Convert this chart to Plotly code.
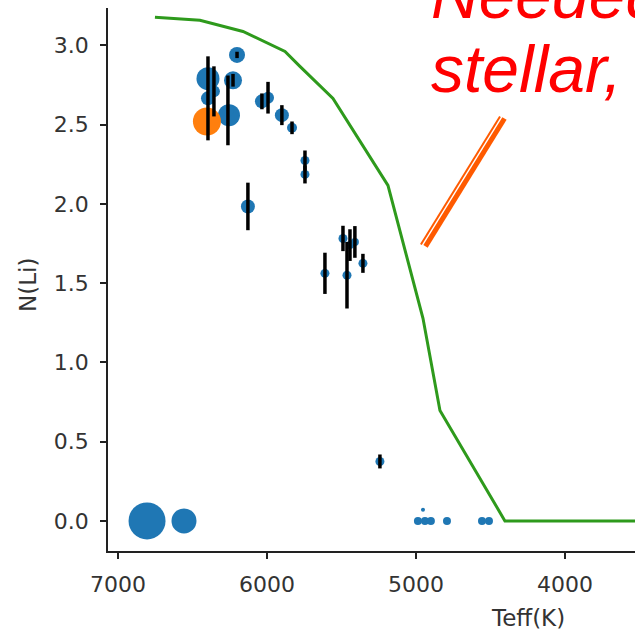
import plotly.graph_objects as go

# ---- data ----
teff = [6201, 6396, 6228, 6255, 6396, 6356, 6262, 6034, 5993, 5900, 5832,
        5745, 5745, 6128, 5611, 5463, 5490, 5443, 5410, 5356, 5242,
        4987, 4940, 4900, 4953, 4792, 4557, 4510, 6805, 6557]
nli = [2.94, 2.79, 2.78, 2.56, 2.666, 2.71, 2.59, 2.647, 2.67, 2.56, 2.48,
       2.274, 2.186, 1.984, 1.562, 1.55, 1.782, 1.74, 1.76, 1.625, 0.375,
       0.0, 0.0, 0.0, 0.07, 0.0, 0.0, 0.0, 0.0, 0.0]
nli_err = [0.02, 0.0, 0.04, 0.0, 0.265, 0.158, 0.22, 0.05, 0.10, 0.063, 0.04,
           0.063, 0.057, 0.15, 0.13, 0.21, 0.08, 0.10, 0.10, 0.06, 0.044,
           0.0, 0.0, 0.0, 0.0, 0.0, 0.0, 0.0, 0.0, 0.0]
bubble = [16, 23, 18, 22, 14, 12, 12, 14, 12, 14, 10,
          9, 9, 14, 9, 9, 9, 8, 8, 9, 9,
          8, 8, 8, 4, 8, 8, 8, 37, 25]

sun_teff = [6403]
sun_nli = [2.52]
sun_bubble = [28]

model_teff = [6752, 6450, 6161, 5879, 5779, 5557, 5188, 4953, 4839, 4403, 3500]
model_nli = [3.177, 3.158, 3.088, 2.962, 2.868, 2.666, 2.117, 1.278, 0.697, 0.0, 0.0]

x_ticks = [7000, 6000, 5000, 4000]
y_ticks = [0.0, 0.5, 1.0, 1.5, 2.0, 2.5, 3.0]

# annotation stroke (two parallel strokes)
stroke_thin = ([4967, 4436], [1.744, 2.552])
stroke_thick = ([4936, 4406], [1.732, 2.539])

BLUE = "#1f77b4"
ORANGE = "#ff7f0e"

fig = go.Figure()

fig.add_trace(go.Scatter(
    x=model_teff, y=model_nli, mode="lines",
    line=dict(color="#2e9a1c", width=3), hoverinfo="skip"))

fig.add_trace(go.Scatter(
    x=teff, y=nli, mode="markers",
    marker=dict(size=bubble, color=BLUE, opacity=1, line=dict(width=0))))

fig.add_trace(go.Scatter(
    x=sun_teff, y=sun_nli, mode="markers",
    marker=dict(size=sun_bubble, color=ORANGE, opacity=1, line=dict(width=0))))

eb_x = [t for t, e in zip(teff, nli_err) if e > 0]
eb_y = [n for n, e in zip(nli, nli_err) if e > 0]
eb_e = [e for e in nli_err if e > 0]
fig.add_trace(go.Scatter(
    x=eb_x, y=eb_y, mode="markers",
    marker=dict(size=1, color="rgba(0,0,0,0)"),
    error_y=dict(type="data", array=eb_e, visible=True,
                 color="black", thickness=3.5, width=0)))

fig.add_shape(type="line", xref="x", yref="y",
              x0=stroke_thin[0][0], x1=stroke_thin[0][1],
              y0=stroke_thin[1][0], y1=stroke_thin[1][1],
              line=dict(color="#ff5a00", width=2))
fig.add_shape(type="line", xref="x", yref="y",
              x0=stroke_thick[0][0], x1=stroke_thick[0][1],
              y0=stroke_thick[1][0], y1=stroke_thick[1][1],
              line=dict(color="#ff5a00", width=5))

L, R, T, B = 108, 0, 8, 81
W, H = 635, 632
pw, ph = W - L - R, H - T - B

def px(xp):
    return (xp - L) / pw

def py(yp):
    return (H - B - yp) / ph

red_font = dict(family="Liberation Sans, Arial, sans-serif", size=66,
                color="#ff0000", style="italic")
fig.add_annotation(xref="paper", yref="paper", x=px(429), y=py(34),
                   xanchor="left", yanchor="bottom", showarrow=False,
                   text="Needed", font=red_font)
fig.add_annotation(xref="paper", yref="paper", x=px(429), y=py(108),
                   xanchor="left", yanchor="bottom", showarrow=False,
                   text="stellar,\u2009or", font=red_font)

lab_font = dict(family="DejaVu Sans", size=23, color="#333333")
fig.add_annotation(xref="paper", yref="paper", x=px(28), y=py(285),
                   xanchor="center", yanchor="middle", showarrow=False,
                   text="N(Li)", textangle=-90, font=lab_font)
fig.add_annotation(xref="paper", yref="paper", x=px(528), y=py(618),
                   xanchor="center", yanchor="middle", showarrow=False,
                   text="Teff(K)", font=lab_font)

axis_common = dict(showgrid=False, zeroline=False, showline=True,
                   linecolor="#222222", linewidth=1.5, ticks="outside",
                   ticklen=6, tickwidth=1.5, tickcolor="#222222",
                   ticklabelstandoff=7,
                   tickfont=dict(family="DejaVu Sans", size=22, color="#333333"))

fig.update_xaxes(range=[7067, 3530], tickvals=x_ticks,
                 ticktext=[str(v) for v in x_ticks], **axis_common)
fig.update_yaxes(range=[-0.19, 3.236], tickvals=y_ticks,
                 ticktext=[f"{v:.1f}" for v in y_ticks], **axis_common)

fig.update_layout(width=W, height=H, margin=dict(l=L, r=R, t=T, b=B),
                  plot_bgcolor="white", paper_bgcolor="white",
                  showlegend=False)

fig.write_html("out.html")
